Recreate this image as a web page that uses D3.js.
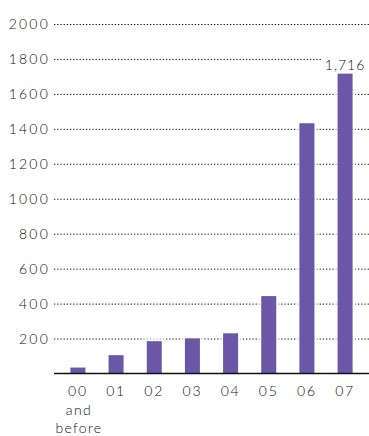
<!DOCTYPE html>
<html>
<head>
<meta charset="utf-8">
<script src="https://cdn.jsdelivr.net/npm/d3@7"></script>
<style>
  html, body { margin: 0; padding: 0; background: #fff; }
  svg { display: block; }
  text { font-family: "Lato", "DejaVu Sans", sans-serif; font-weight: 300; fill: #111; }
</style>
</head>
<body>
<svg id="chart" width="369" height="436"></svg>
<script>
// Yearly totals
const categories = ["00", "01", "02", "03", "04", "05", "06", "07"];
const subLabels = [["and", "before"], [], [], [], [], [], [], []];
const values = [34, 105, 185, 201, 230, 443, 1432, 1716];
const yTicks = [200, 400, 600, 800, 1000, 1200, 1400, 1600, 1800, 2000];
const labelled = { "07": "1,716" };

const svg = d3.select("#chart");
const plot = { left: 54, right: 369, top: 24, bottom: 373.5 };

const x = d3.scaleBand()
  .domain(categories)
  .range([plot.left, plot.right])
  .paddingInner(0.607)
  .paddingOuter(0.43);

const y = d3.scaleLinear()
  .domain([0, 2000])
  .range([plot.bottom, plot.top]);

const purple = "#6a57a8";

// dotted gridlines with value labels
const yAxis = d3.axisLeft(y)
  .tickValues(yTicks)
  .tickSize(-(plot.right - plot.left))
  .tickPadding(6)
  .tickFormat(d3.format("d"));

const gy = svg.append("g")
  .attr("transform", `translate(${plot.left},0)`)
  .call(yAxis);
gy.select(".domain").remove();
gy.selectAll(".tick line")
  .attr("stroke", "#111")
  .attr("stroke-width", 1)
  .attr("stroke-dasharray", "1.3,1.9");
gy.selectAll(".tick text")
  .attr("x", -4)
  .style("font-size", "14px")
  .style("letter-spacing", "2.2px")
  .style("fill", "#111");

// soft white halo around each bar
svg.append("g").selectAll("rect")
  .data(categories)
  .join("rect")
  .attr("x", d => x(d) - 3)
  .attr("width", x.bandwidth() + 6)
  .attr("y", (d, i) => y(values[i]) - 4)
  .attr("height", (d, i) => plot.bottom - y(values[i]) + 4)
  .attr("fill", "#fff")
  .attr("opacity", 0.6);

// bars
svg.append("g").selectAll("rect")
  .data(categories)
  .join("rect")
  .attr("x", d => x(d))
  .attr("width", x.bandwidth())
  .attr("y", (d, i) => y(values[i]))
  .attr("height", (d, i) => plot.bottom - y(values[i]))
  .attr("fill", purple);

// baseline and category labels
const xAxis = d3.axisBottom(x).tickSize(0).tickPadding(13);
const gx = svg.append("g")
  .attr("transform", `translate(0,${plot.bottom})`)
  .call(xAxis);
gx.select(".domain")
  .attr("d", `M${plot.left},0H${plot.right}`)
  .attr("stroke", "#111")
  .attr("stroke-width", 1.3);
gx.selectAll(".tick text")
  .style("font-size", "14px")
  .style("letter-spacing", "1.8px")
  .style("fill", "#111")
  .each(function (d, i) {
    const t = d3.select(this);
    subLabels[i].forEach((s) => {
      t.append("tspan")
        .attr("x", 1)
        .attr("dy", "1.3em")
        .style("letter-spacing", "1.3px")
        .text(s);
    });
  });

// value label above the last bar
categories.forEach((c, i) => {
  if (!labelled[c]) return;
  const cx = x(c) + x.bandwidth() / 2;
  const ty = y(values[i]) - 4;
  svg.append("rect")
    .attr("x", cx - 24)
    .attr("y", ty - 14)
    .attr("width", 48)
    .attr("height", 16)
    .attr("fill", "#fff");
  svg.append("text")
    .attr("x", cx)
    .attr("y", ty)
    .attr("text-anchor", "middle")
    .style("font-size", "14px")
    .style("letter-spacing", "1px")
    .text(labelled[c]);
});
</script>
</body>
</html>
